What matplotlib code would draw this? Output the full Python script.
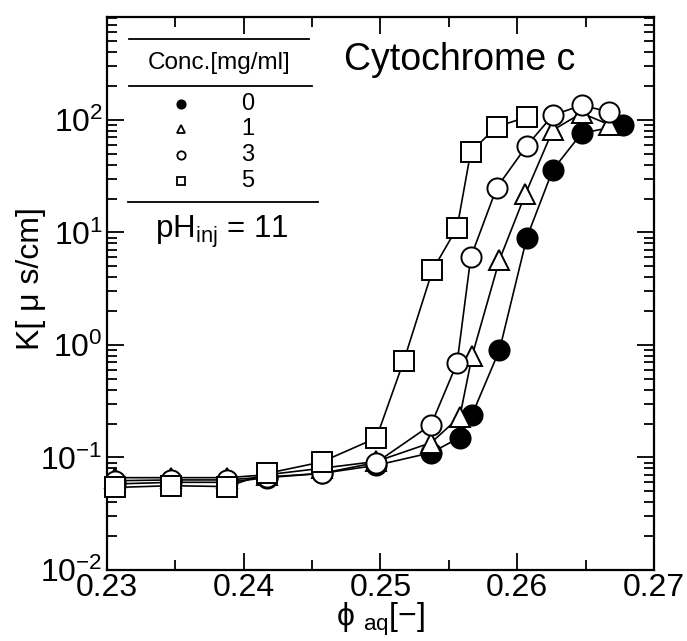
import numpy as np
import matplotlib
matplotlib.use('Agg')
import matplotlib.pyplot as plt
from matplotlib.ticker import LogLocator, NullFormatter, MultipleLocator, FormatStrFormatter

plt.rcParams['font.family'] = ['Liberation Sans', 'DejaVu Sans']
plt.rcParams['mathtext.fontset'] = 'custom'
plt.rcParams['mathtext.rm'] = 'Liberation Sans'
plt.rcParams['mathtext.it'] = 'Liberation Sans:italic'

# data
x_low = [0.2306, 0.2347, 0.2388, 0.2417, 0.2457, 0.2497]

x_c0 = x_low + [0.2537, 0.2558, 0.2567, 0.2587, 0.2607, 0.2626, 0.2647, 0.2677]
k_c0 = [0.058, 0.060, 0.060, 0.066, 0.072, 0.085, 0.11, 0.15, 0.24, 0.90, 9.0, 36, 76, 90]

x_c1 = x_low + [0.2537, 0.2558, 0.2567, 0.2587, 0.2606, 0.2626, 0.2647, 0.2667]
k_c1 = [0.066, 0.066, 0.066, 0.070, 0.080, 0.092, 0.135, 0.23, 0.80, 5.7, 22, 81, 115, 91]

x_c3 = x_low + [0.2537, 0.2556, 0.2566, 0.2585, 0.2607, 0.2626, 0.2647, 0.2667]
k_c3 = [0.062, 0.063, 0.063, 0.067, 0.072, 0.090, 0.195, 0.69, 6.0, 25, 59, 110, 135, 118]

x_c5 = x_low + [0.2517, 0.2538, 0.2556, 0.2566, 0.2585, 0.2607]
k_c5 = [0.054, 0.056, 0.055, 0.072, 0.091, 0.149, 0.72, 4.6, 11, 52, 87, 106]

conc_labels = ['0', '1', '3', '5']

fig = plt.figure(figsize=(6.87, 6.41), dpi=100)
ax = fig.add_axes([0.1557, 0.111, 0.7963, 0.8625])

series = [
    (x_c0, k_c0, 'o', 'black'),
    (x_c1, k_c1, '^', 'white'),
    (x_c3, k_c3, 'o', 'white'),
    (x_c5, k_c5, 's', 'white'),
]
msize = {'o': 14.5, '^': 14.5, 's': 14}
for xs, ks, m, fc in series:
    ax.plot(xs, ks, '-', color='black', lw=1.2, zorder=2)
for xs, ks, m, fc in series:
    ax.plot(xs, ks, m, ms=msize[m], mfc=fc, mec='black', mew=1.4, ls='none', zorder=3, clip_on=False)

ax.set_yscale('log')
ax.set_xlim(0.23, 0.27)
ax.set_ylim(1e-2, 10 ** 2.915)
ax.xaxis.set_major_locator(MultipleLocator(0.01))
ax.xaxis.set_minor_locator(MultipleLocator(0.005))
ax.xaxis.set_major_formatter(FormatStrFormatter('%.2f'))
ax.yaxis.set_major_locator(LogLocator(base=10, numticks=10))
ax.yaxis.set_minor_locator(LogLocator(base=10, subs=np.arange(2, 10), numticks=20))
ax.yaxis.set_minor_formatter(NullFormatter())

ax.tick_params(which='both', direction='in', top=True, right=True, width=1.3)
ax.tick_params(which='major', length=12, labelsize=23)
ax.tick_params(which='minor', length=7)
ax.tick_params(axis='x', which='major', pad=2)
ax.tick_params(axis='y', which='major', pad=3)
for s in ax.spines.values():
    s.set_linewidth(1.6)

ax.set_xlabel('ϕ $_{\\mathregular{aq}}$[−]', fontsize=23, labelpad=-1)
ax.set_ylabel('K[ μ s/cm]', fontsize=23)
ax.yaxis.set_label_coords(-0.112, 0.526)

ax.text(0.644, 0.904, 'Cytochrome c', transform=ax.transAxes, fontsize=27,
        ha='center', va='baseline')

# legend box drawn as a little table
tr = ax.transAxes
for y0, x0, x1 in [(0.96, 0.04, 0.37), (0.875, 0.04, 0.375), (0.665, 0.038, 0.386)]:
    ax.plot([x0, x1], [y0, y0], color='black', lw=1.3, transform=tr, clip_on=False)
ax.text(0.205, 0.917, 'Conc.[mg/ml]', transform=tr, fontsize=17.5, ha='center', va='center')
leg_marks = [('o', 'black'), ('^', 'white'), ('o', 'white'), ('s', 'white')]
row_y = [0.843, 0.797, 0.750, 0.703]
for (m, fc), lab, yy in zip(leg_marks, conc_labels, row_y):
    ax.plot([0.135], [yy], m, ms=6, mfc=fc, mec='black', mew=1.3, transform=tr)
    ax.text(0.258, yy, lab, transform=tr, fontsize=17, ha='center', va='center')
ax.text(0.21, 0.612, 'pH$_{\\mathregular{inj}}$ = 11', transform=tr, fontsize=22.5,
        ha='center', va='center')

fig.savefig('out.png', dpi=100)
